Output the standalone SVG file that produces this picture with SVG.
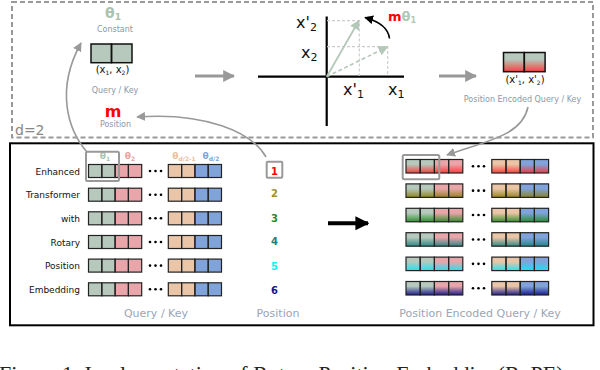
<svg xmlns="http://www.w3.org/2000/svg" xmlns:xlink="http://www.w3.org/1999/xlink" width="600" height="370" viewBox="0 0 600 370">
<style>
text{font-family:"DejaVu Sans","Liberation Sans",sans-serif}
text.cap{font-family:"Liberation Serif","DejaVu Serif",serif}
.lbl{font-size:8px;fill:#8c97a8}
.big{font-size:11px;fill:#9aa5b5}
.row{font-size:9px;fill:#111;text-anchor:end}
.ax{font-size:16px;fill:#111}
.num{font-size:10px;font-weight:bold;text-anchor:middle}
.gc{fill:#b6c9bc}.rc{fill:#e9a6aa}.tc{fill:#eac5a7}.bc{fill:#80a4da}
.cb{fill:none;stroke:#222;stroke-width:1.2}
.conn{fill:none;stroke:#999;stroke-width:1.6}
.thick{fill:none;stroke:#999;stroke-width:3}
.hl{fill:none;stroke:#999;stroke-width:2}
</style>
<defs>
<marker id="ag" viewBox="0 0 10 10" refX="9" refY="5" markerWidth="9" markerHeight="9" markerUnits="userSpaceOnUse" orient="auto"><path d="M0,0L10,5L0,10z" fill="#999"/></marker>
<marker id="agt" viewBox="0 0 10 10" refX="9" refY="5" markerWidth="12" markerHeight="12" markerUnits="userSpaceOnUse" orient="auto"><path d="M0,0L10,5L0,10z" fill="#999"/></marker>
<marker id="ab" viewBox="0 0 10 10" refX="9" refY="5" markerWidth="14" markerHeight="14" markerUnits="userSpaceOnUse" orient="auto"><path d="M0,0L10,5L0,10z" fill="#000"/></marker>
<marker id="abs" viewBox="0 0 10 10" refX="9" refY="5" markerWidth="9" markerHeight="9" markerUnits="userSpaceOnUse" orient="auto"><path d="M0,0L10,5L0,10z" fill="#000"/></marker>
<marker id="av" viewBox="0 0 10 10" refX="9" refY="5" markerWidth="10" markerHeight="10" markerUnits="userSpaceOnUse" orient="auto"><path d="M0,0L10,5L0,10z" fill="#b4c8b9"/></marker>
<linearGradient id="gRed" x1="0" y1="0" x2="0" y2="1"><stop offset="0.35" stop-color="#ff2a2a" stop-opacity="0"/><stop offset="1" stop-color="#ff2a2a" stop-opacity="0.85"/></linearGradient>
<linearGradient id="gOl" x1="0" y1="0" x2="0" y2="1"><stop offset="0.35" stop-color="#8c7d10" stop-opacity="0"/><stop offset="1" stop-color="#8c7d10" stop-opacity="0.9"/></linearGradient>
<linearGradient id="gGr" x1="0" y1="0" x2="0" y2="1"><stop offset="0.35" stop-color="#1e8a1e" stop-opacity="0"/><stop offset="1" stop-color="#1e8a1e" stop-opacity="0.9"/></linearGradient>
<linearGradient id="gTe" x1="0" y1="0" x2="0" y2="1"><stop offset="0.35" stop-color="#1c7f80" stop-opacity="0"/><stop offset="1" stop-color="#1c7f80" stop-opacity="0.9"/></linearGradient>
<linearGradient id="gCy" x1="0" y1="0" x2="0" y2="1"><stop offset="0.35" stop-color="#10e8f0" stop-opacity="0"/><stop offset="1" stop-color="#10e8f0" stop-opacity="0.9"/></linearGradient>
<linearGradient id="gNv" x1="0" y1="0" x2="0" y2="1"><stop offset="0.35" stop-color="#14148a" stop-opacity="0"/><stop offset="1" stop-color="#14148a" stop-opacity="0.95"/></linearGradient>
<g id="rowL">
<rect class="gc" x="88.5" y="0" width="13.3" height="13"/><rect class="gc" x="101.8" y="0" width="13.3" height="13"/>
<rect class="rc" x="115.1" y="0" width="13.3" height="13"/><rect class="rc" x="128.4" y="0" width="13.3" height="13"/>
<rect class="tc" x="168.3" y="0" width="13.3" height="13"/><rect class="tc" x="181.6" y="0" width="13.3" height="13"/>
<rect class="bc" x="194.9" y="0" width="13.3" height="13"/><rect class="bc" x="208.2" y="0" width="13.3" height="13"/>
<rect class="cb" x="88.5" y="0" width="13.3" height="13"/><rect class="cb" x="101.8" y="0" width="13.3" height="13"/>
<rect class="cb" x="115.1" y="0" width="13.3" height="13"/><rect class="cb" x="128.4" y="0" width="13.3" height="13"/>
<rect class="cb" x="168.3" y="0" width="13.3" height="13"/><rect class="cb" x="181.6" y="0" width="13.3" height="13"/>
<rect class="cb" x="194.9" y="0" width="13.3" height="13"/><rect class="cb" x="208.2" y="0" width="13.3" height="13"/>
<circle cx="150" cy="6.5" r="1.3"/><circle cx="155.5" cy="6.5" r="1.3"/><circle cx="161" cy="6.5" r="1.3"/>
</g>
<g id="rowRf">
<rect class="gc" x="406" y="0" width="14.2" height="13.5"/><rect class="gc" x="420.2" y="0" width="14.2" height="13.5"/>
<rect class="rc" x="434.4" y="0" width="14.2" height="13.5"/><rect class="rc" x="448.6" y="0" width="14.2" height="13.5"/>
<rect class="tc" x="491.8" y="0" width="14.2" height="13.5"/><rect class="tc" x="506" y="0" width="14.2" height="13.5"/>
<rect class="bc" x="520.2" y="0" width="14.2" height="13.5"/><rect class="bc" x="534.4" y="0" width="14.2" height="13.5"/>
</g>
<g id="rowRs">
<rect class="cb" x="406" y="0" width="14.2" height="13.5"/><rect class="cb" x="420.2" y="0" width="14.2" height="13.5"/>
<rect class="cb" x="434.4" y="0" width="14.2" height="13.5"/><rect class="cb" x="448.6" y="0" width="14.2" height="13.5"/>
<rect class="cb" x="491.8" y="0" width="14.2" height="13.5"/><rect class="cb" x="506" y="0" width="14.2" height="13.5"/>
<rect class="cb" x="520.2" y="0" width="14.2" height="13.5"/><rect class="cb" x="534.4" y="0" width="14.2" height="13.5"/>
<circle cx="473" cy="6.75" r="1.3"/><circle cx="478.5" cy="6.75" r="1.3"/><circle cx="484" cy="6.75" r="1.3"/>
</g>
</defs>
<rect width="600" height="370" fill="#fff"/>

<g id="top-panel">
<rect x="12" y="2" width="581" height="135.5" fill="none" stroke="#999" stroke-width="2" stroke-dasharray="5,3"/>
<text x="15" y="135" font-size="14" fill="#888">d=2</text>
</g>

<g id="constant">
<text x="113" y="18" text-anchor="middle" font-size="14" font-weight="bold" fill="#a9c2ae">θ<tspan font-size="9" dy="2">1</tspan></text>
<text class="lbl" x="115" y="31.5" text-anchor="middle">Constant</text>
</g>
<g id="query-key-2d">
<rect class="gc" x="91" y="44" width="20.5" height="18.7"/><rect class="gc" x="111.5" y="44" width="20.5" height="18.7"/>
<rect x="91" y="44" width="20.5" height="18.7" fill="none" stroke="#111" stroke-width="1.5"/><rect x="111.5" y="44" width="20.5" height="18.7" fill="none" stroke="#111" stroke-width="1.5"/>
<text x="112.5" y="73" text-anchor="middle" font-size="10" fill="#111">(x<tspan font-size="6" dy="2">1</tspan><tspan dy="-2">, x</tspan><tspan font-size="6" dy="2">2</tspan><tspan dy="-2">)</tspan></text>
<text class="lbl" x="115" y="92.5" text-anchor="middle">Query / Key</text>
</g>
<g id="position-m">
<text x="113" y="116.5" text-anchor="middle" font-size="16" font-weight="bold" fill="#f00">m</text>
<text class="lbl" x="115.5" y="126.5" text-anchor="middle">Position</text>
</g>

<g id="rotation">
<line x1="258" y1="76.7" x2="404" y2="76.7" stroke="#000" stroke-width="2.2"/>
<line x1="326.7" y1="16.5" x2="326.7" y2="126" stroke="#000" stroke-width="2.2"/>
<g stroke="#ccc" stroke-width="1.2" stroke-dasharray="3,2" fill="none">
<path d="M327,20.7H359.3V76"/>
<path d="M327,46.7H387.7V76"/>
</g>
<line x1="326.7" y1="76.7" x2="359" y2="20.5" stroke="#b4c8b9" stroke-width="1.8" marker-end="url(#av)"/>
<line x1="326.7" y1="76.7" x2="387.5" y2="46.8" stroke="#b4c8b9" stroke-width="1.6" stroke-dasharray="4,2.5" marker-end="url(#av)"/>
<path d="M389.5,38.5 Q388,24 365,17.5" fill="none" stroke="#000" stroke-width="1.6" marker-end="url(#abs)"/>
<text x="388" y="21" font-size="13" font-weight="bold"><tspan fill="#f00">m</tspan><tspan fill="#b0c8b5">θ</tspan><tspan fill="#b0c8b5" font-size="8" dy="2">1</tspan></text>
<text class="ax" x="296" y="28.3">x'<tspan font-size="11" dy="3">2</tspan></text>
<text class="ax" x="301" y="58">x<tspan font-size="11" dy="3">2</tspan></text>
<text class="ax" x="343" y="95">x'<tspan font-size="11" dy="3">1</tspan></text>
<text class="ax" x="388" y="95">x<tspan font-size="11" dy="3">1</tspan></text>
</g>

<g id="encoded-2d">
<rect class="gc" x="503.5" y="52.5" width="20.8" height="19.2"/><rect class="gc" x="524.3" y="52.5" width="20.8" height="19.2"/>
<rect x="503.5" y="52.5" width="41.6" height="19.2" fill="url(#gRed)"/>
<rect x="503.5" y="52.5" width="20.8" height="19.2" fill="none" stroke="#111" stroke-width="1.5"/><rect x="524.3" y="52.5" width="20.8" height="19.2" fill="none" stroke="#111" stroke-width="1.5"/>
<text x="525" y="83" text-anchor="middle" font-size="10" fill="#111">(x'<tspan font-size="6" dy="2">1</tspan><tspan dy="-2">, x'</tspan><tspan font-size="6" dy="2">2</tspan><tspan dy="-2">)</tspan></text>
<text class="lbl" x="522.5" y="101.5" text-anchor="middle">Position Encoded Query / Key</text>
</g>

<g id="bottom-panel">
<rect x="10" y="143.3" width="583.5" height="182" fill="none" stroke="#000" stroke-width="2"/>
</g>

<g id="query-key-rows">
<text x="105" y="159" text-anchor="middle" font-size="9" font-weight="bold" fill="#a9c2ae">θ<tspan font-size="6" dy="1.5">1</tspan></text>
<text x="130" y="159" text-anchor="middle" font-size="9" font-weight="bold" fill="#e9a0a4">θ<tspan font-size="6" dy="1.5">2</tspan></text>
<text x="184" y="159" text-anchor="middle" font-size="9" font-weight="bold" fill="#eac0a0">θ<tspan font-size="6" dy="1.5">d/2-1</tspan></text>
<text x="211" y="159" text-anchor="middle" font-size="9" font-weight="bold" fill="#80a4da">θ<tspan font-size="6" dy="1.5">d/2</tspan></text>
<text class="row" x="80" y="174.5">Enhanced</text>
<text class="row" x="80" y="198.2">Transformer</text>
<text class="row" x="80" y="221.8">with</text>
<text class="row" x="80" y="245.5">Rotary</text>
<text class="row" x="80" y="269.1">Position</text>
<text class="row" x="80" y="292.8">Embedding</text>
<use xlink:href="#rowL" href="#rowL" y="164.5"/>
<use xlink:href="#rowL" href="#rowL" y="188.2"/>
<use xlink:href="#rowL" href="#rowL" y="211.8"/>
<use xlink:href="#rowL" href="#rowL" y="235.5"/>
<use xlink:href="#rowL" href="#rowL" y="259.1"/>
<use xlink:href="#rowL" href="#rowL" y="282.8"/>
<rect class="hl" x="86" y="151.7" width="33" height="29.3" rx="1.5"/>
<text class="big" x="156" y="316.5" text-anchor="middle">Query / Key</text>
</g>

<g id="positions">
<rect x="266.7" y="161.7" width="15.6" height="16" fill="#fff" stroke="#999" stroke-width="2" rx="1"/>
<text class="num" x="274.5" y="174.5" fill="#f00">1</text>
<text class="num" x="274.5" y="197" fill="#a0902a">2</text>
<text class="num" x="274.5" y="221.8" fill="#2a8a2a">3</text>
<text class="num" x="274.5" y="245.2" fill="#1c7f80">4</text>
<text class="num" x="274.5" y="269.5" fill="#10f0f0">5</text>
<text class="num" x="274.5" y="293.5" fill="#14148a">6</text>
<text class="big" x="278" y="316.5" text-anchor="middle">Position</text>
</g>

<g id="encoded-rows">
<use xlink:href="#rowRf" href="#rowRf" y="159.5"/>
<rect x="406" y="159.5" width="56.8" height="13.5" fill="url(#gRed)"/><rect x="491.8" y="159.5" width="56.8" height="13.5" fill="url(#gRed)"/>
<use xlink:href="#rowRs" href="#rowRs" y="159.5"/>
<use xlink:href="#rowRf" href="#rowRf" y="183.9"/>
<rect x="406" y="183.9" width="56.8" height="13.5" fill="url(#gOl)"/><rect x="491.8" y="183.9" width="56.8" height="13.5" fill="url(#gOl)"/>
<use xlink:href="#rowRs" href="#rowRs" y="183.9"/>
<use xlink:href="#rowRf" href="#rowRf" y="208.3"/>
<rect x="406" y="208.3" width="56.8" height="13.5" fill="url(#gGr)"/><rect x="491.8" y="208.3" width="56.8" height="13.5" fill="url(#gGr)"/>
<use xlink:href="#rowRs" href="#rowRs" y="208.3"/>
<use xlink:href="#rowRf" href="#rowRf" y="232.7"/>
<rect x="406" y="232.7" width="56.8" height="13.5" fill="url(#gTe)"/><rect x="491.8" y="232.7" width="56.8" height="13.5" fill="url(#gTe)"/>
<use xlink:href="#rowRs" href="#rowRs" y="232.7"/>
<use xlink:href="#rowRf" href="#rowRf" y="257.1"/>
<rect x="406" y="257.1" width="56.8" height="13.5" fill="url(#gCy)"/><rect x="491.8" y="257.1" width="56.8" height="13.5" fill="url(#gCy)"/>
<use xlink:href="#rowRs" href="#rowRs" y="257.1"/>
<use xlink:href="#rowRf" href="#rowRf" y="281.5"/>
<rect x="406" y="281.5" width="56.8" height="13.5" fill="url(#gNv)"/><rect x="491.8" y="281.5" width="56.8" height="13.5" fill="url(#gNv)"/>
<use xlink:href="#rowRs" href="#rowRs" y="281.5"/>
<rect class="hl" x="402.7" y="155" width="36.6" height="24.3" rx="1.5"/>
<text class="big" x="480" y="316.5" text-anchor="middle">Position Encoded Query / Key</text>
</g>

<g id="connectors">
<line class="thick" x1="195" y1="76" x2="234" y2="76" marker-end="url(#agt)"/>
<line class="thick" x1="439" y1="76" x2="476" y2="76" marker-end="url(#agt)"/>
<path class="conn" d="M87,152 C68,130 55,90 81,43" marker-end="url(#ag)"/>
<path class="conn" d="M266,157 C252,132 205,112 137,117" marker-end="url(#ag)"/>
<path class="conn" d="M528,107 C522,135 490,140 447,155" marker-end="url(#ag)"/>
<line x1="328" y1="223.3" x2="368" y2="223.3" stroke="#000" stroke-width="4" marker-end="url(#ab)"/>
</g>

<text class="cap" x="-1" y="381" font-size="22" fill="#222">Figure 1: Implementation of Rotary Position Embedding(RoPE).</text>
</svg>
